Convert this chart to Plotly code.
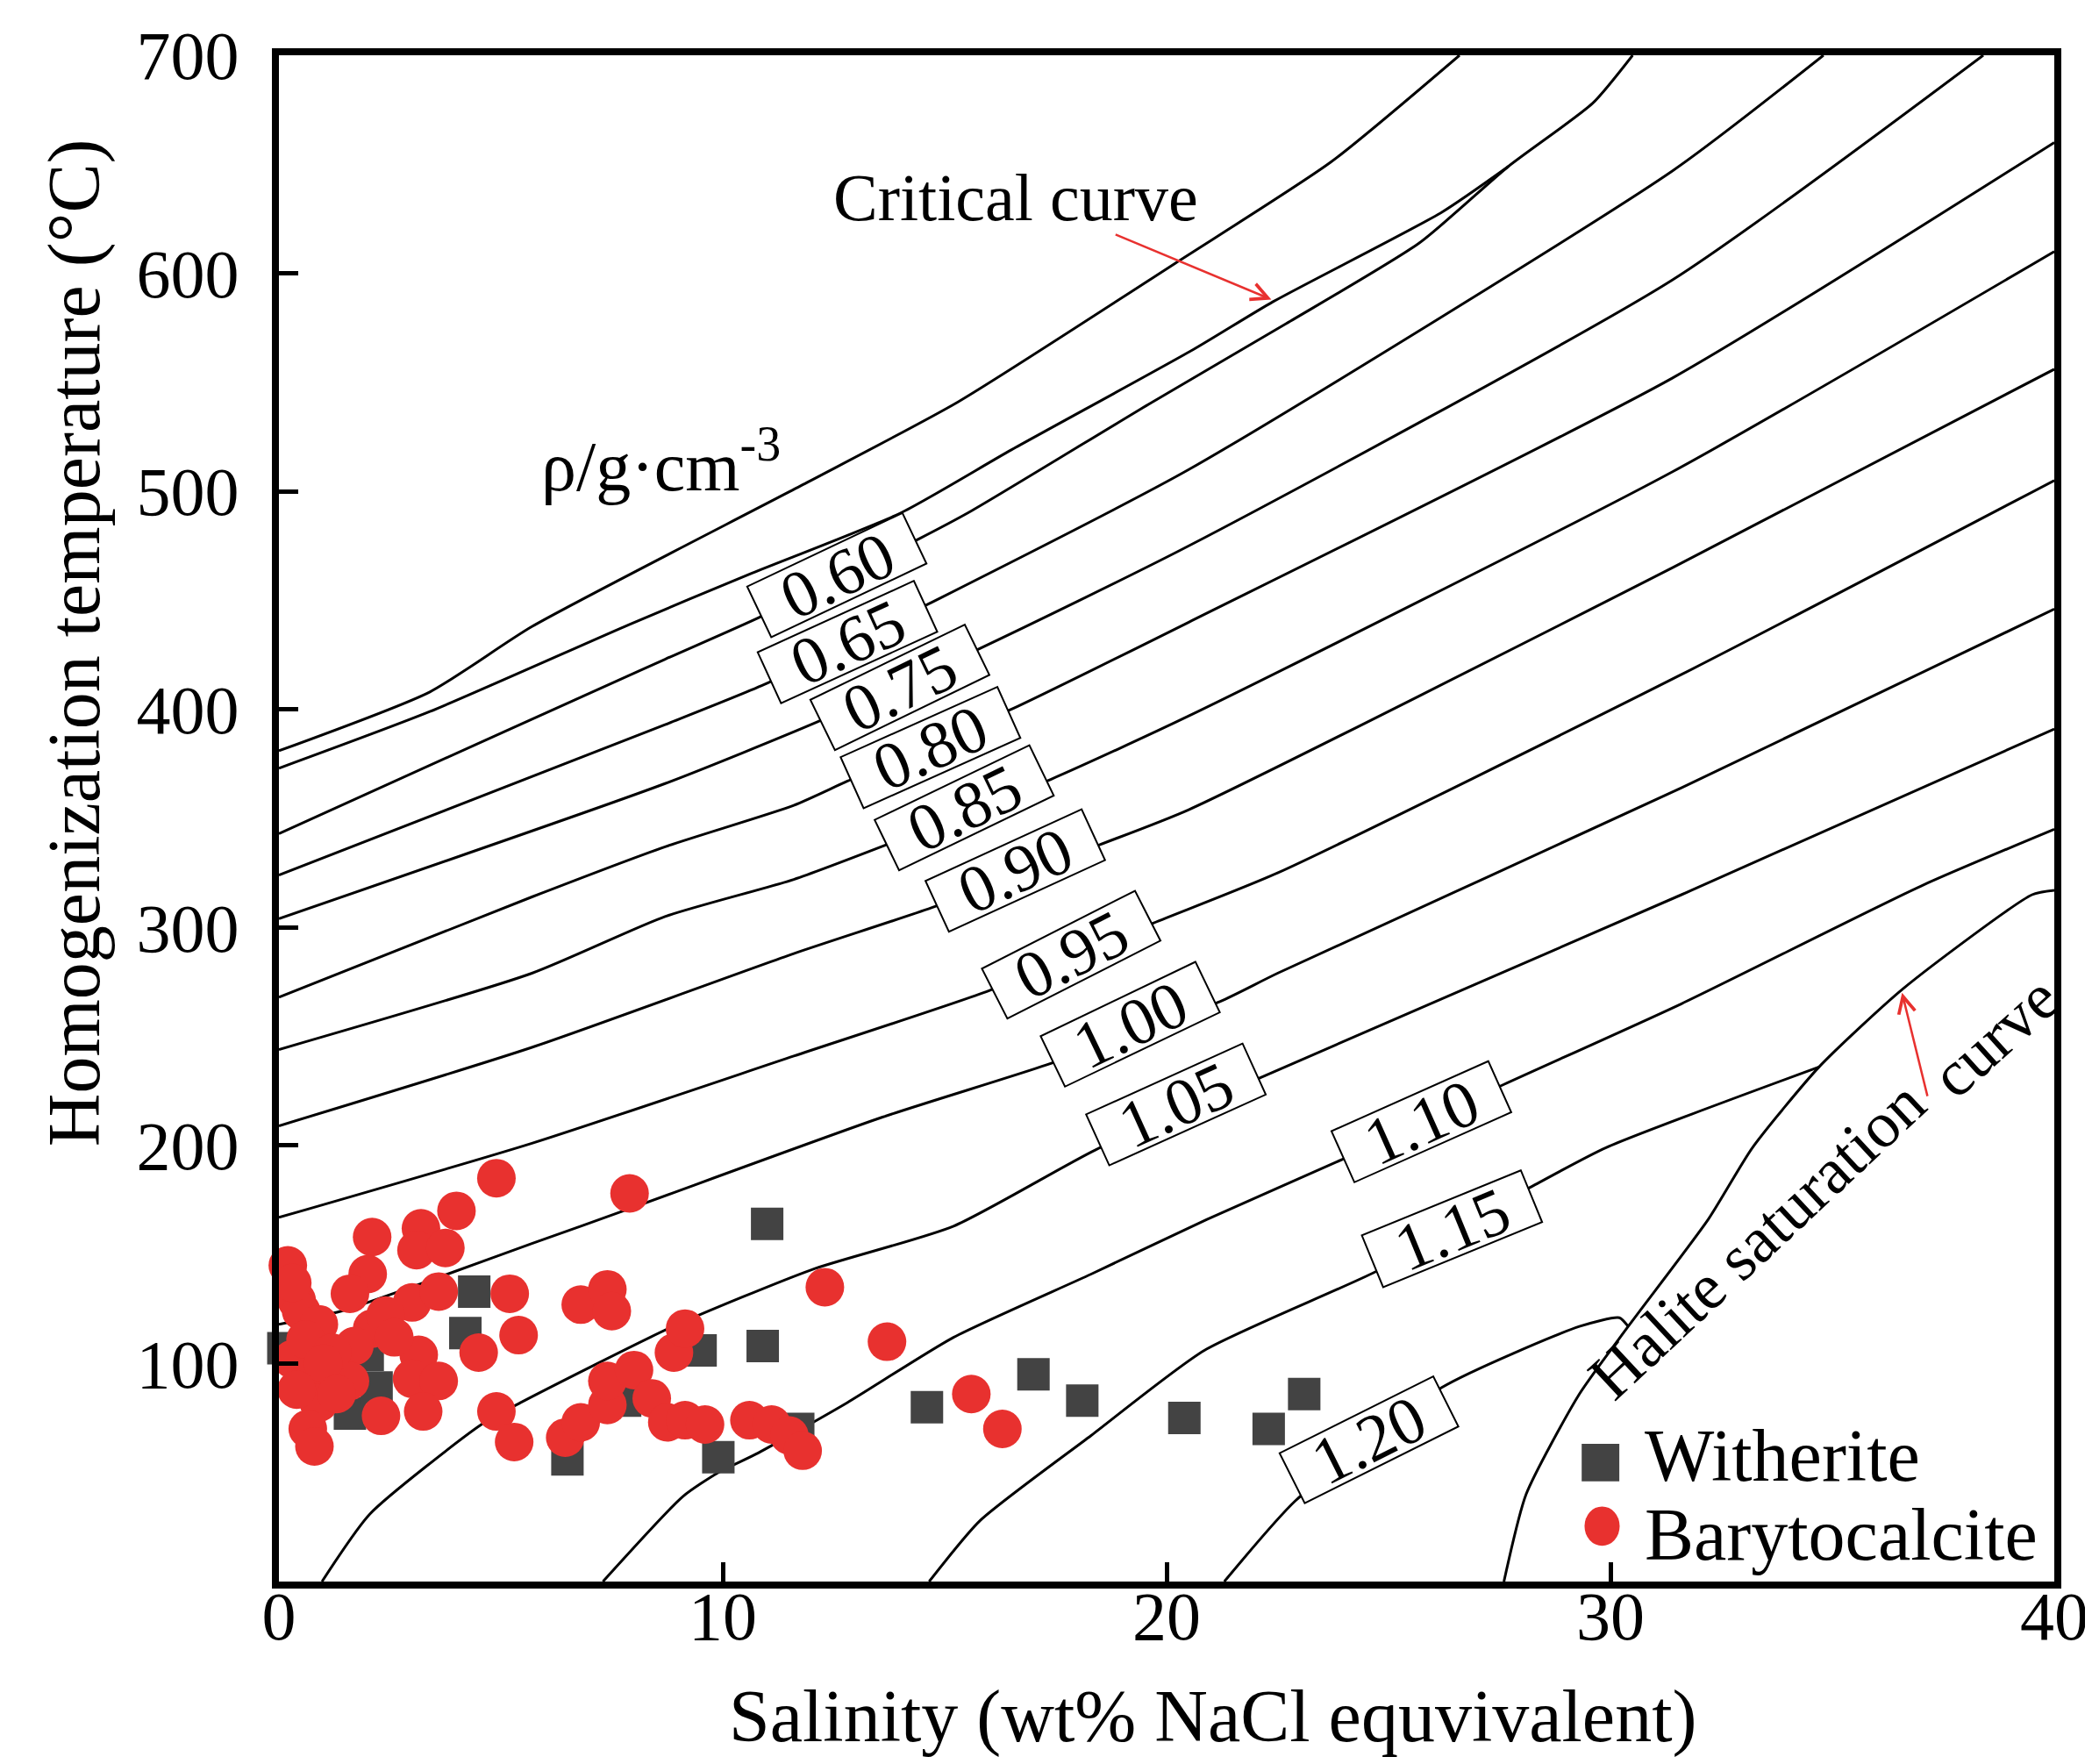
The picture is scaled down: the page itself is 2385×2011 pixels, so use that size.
import math
import plotly.graph_objects as go

FONT = "Liberation Serif"

# isochores / curves: salinity (wt% NaCl eq.) vs Th (deg C)
upper_s = [0, 3.4, 5.7, 11.8, 15.3, 20.3, 23.7, 26.6]
upper_t = [381, 408, 438, 503, 541, 606, 651, 700]

crit_s = [0, 3.4, 7.9, 10.6, 14.0, 16.5, 20.6, 22.4, 26.2, 27.7]
crit_t = [373, 399, 439, 462, 490, 519, 565, 587, 628, 649]

r060_s = [0, 5.1, 8.7, 10.8, 14.4, 15.6, 19.6, 22.7, 25.7, 27.7, 29.6, 30.5]
r060_t = [343, 390, 423, 442, 478, 491, 540, 577, 614, 649, 678, 700]

r065_s = [0, 8.7, 11.0, 14.6, 20.5, 31.4, 34.8]
r065_t = [324, 393, 412, 448, 510, 647, 700]

r075_s = [0, 8.7, 12.1, 15.8, 20.5, 31.4, 38.4]
r075_t = [304, 366, 394, 428, 475, 597, 700]

r080_s = [0, 5.7, 8.7, 11.6, 12.8, 16.5, 20.5, 31.4, 40]
r080_t = [268, 314, 337, 356, 367, 400, 440, 552, 660]

r085_s = [0, 5.7, 8.7, 11.6, 13.7, 17.4, 20.5, 31.4, 40]
r085_t = [244, 279, 305, 322, 338, 368, 397, 509, 610]

r090_s = [0, 5.7, 11.6, 14.7, 18.5, 20.5, 31.4, 40]
r090_t = [209, 245, 288, 309, 338, 354, 465, 556]

r095_s = [0, 5.7, 11.6, 16.0, 19.7, 22.5, 31.6, 40]
r095_t = [167, 201, 241, 271, 302, 325, 416, 505]

r100_s = [0, 1.4, 3.8, 5.7, 7.9, 13.6, 17.3, 21.2, 22.5, 31.6, 40]
r100_t = [118, 124, 141, 155, 171, 213, 237, 266, 279, 364, 446]

r105_s = [0.97, 2.05, 4.56, 5.44, 8.88, 12.0, 15.2, 18.4, 22.1, 31.6, 40]
r105_t = [0, 31, 72, 82, 117, 143, 163, 198, 231, 315, 391]

r110_s = [7.3, 9.1, 9.9, 10.8, 12.8, 15.2, 18.3, 20.9, 24.0, 27.6, 31.6, 37.0, 40]
r110_t = [0, 39, 50, 59, 82, 112, 141, 166, 194, 228, 265, 319, 345]

r115_s = [14.65, 15.8, 18.3, 20.85, 24.7, 28.3, 29.9, 34.7]
r115_t = [0, 28, 67, 106, 142, 182, 199, 236]

r120_s = [21.3, 22.9, 26.2, 29.3, 30.2, 30.4]
r120_t = [0, 37, 89, 117, 121, 117]

halite_s = [27.6, 28.1, 29.3, 30.4, 32.2, 33.2, 34.7, 36.6, 39.5, 40]
halite_t = [0, 40, 86, 117, 166, 199, 236, 272, 315, 317]

# density labels sitting on the isochores
label_text = ["0.60", "0.65", "0.75", "0.80", "0.85", "0.90",
              "0.95", "1.00", "1.05", "1.10", "1.15", "1.20"]
label_s = [12.57, 12.81, 13.99, 14.68, 15.44, 16.59, 17.85, 19.18, 20.21, 25.74, 26.43, 24.56]
label_t = [461.6, 430.9, 410.1, 382.5, 354.9, 326.1, 287.5, 255.6, 218.8, 210.9, 161.8, 65.0]
label_angle = [25.4, 24.6, 26, 24.2, 25.8, 24.7, 27, 25.7, 24.4, 24.1, 22.3, 26.6]

# fluid inclusion data
witherite_s = [0.1, 1.6, 2.2, 2.0, 4.4, 4.2, 6.5, 7.8, 9.5, 9.9, 11.0, 10.9, 11.7,
               14.6, 17.0, 18.1, 20.4, 22.3, 23.1]
witherite_t = [107, 77, 89, 104, 133, 114, 56, 83, 106, 57, 164, 108, 70,
               80, 95, 83, 75, 70, 86]

baryto_s = [4.9, 7.9, 4.0, 3.2, 2.1, 3.1, 3.75, 2.0, 0.2, 1.6, 3.0, 3.6, 0.4, 0.5,
            0.9, 2.1, 1.7, 0.3, 0.6, 1.3, 1.6, 0.9, 0.65, 0.8, 2.3, 3.15, 3.0, 3.6,
            3.25, 5.2, 5.4, 4.5, 4.9, 5.3, 6.8, 7.4, 7.5, 8.9, 9.15, 6.45, 6.8, 7.4,
            7.4, 8.0, 8.4, 8.75, 9.15, 0.3, 0.6, 1.2, 1.0, 2.4, 2.6, 1.3, 0.4,
            9.6, 10.6, 11.1, 11.5, 11.8, 12.3, 13.7, 15.6, 16.3]
baryto_t = [185, 178, 170, 162, 158, 152, 153, 141, 145, 132, 128, 133, 129, 124,
            118, 116, 108, 102, 94, 94, 92, 82, 70, 62, 76, 104, 93, 92,
            78, 132, 113, 105, 78, 64, 127, 134, 124, 105, 116, 66, 73, 81,
            92, 97, 84, 73, 74, 137, 111, 105, 100, 122, 112, 86, 88,
            72, 74, 72, 67, 60, 135, 110, 86, 70]

W, H = 2385, 2011
ML, MR, MT, MB = 310, 50, 50, 216
PX_S = (W - ML - MR) / 40.0
PX_T = (H - MT - MB) / 700.0
BOX_L, BOX_H = 196, 64
RED = "#e8312f"
GREY = "#434343"

fig = go.Figure()

curves = [(upper_s, upper_t), (crit_s, crit_t), (r060_s, r060_t), (r065_s, r065_t),
          (r075_s, r075_t), (r080_s, r080_t), (r085_s, r085_t), (r090_s, r090_t),
          (r095_s, r095_t), (r100_s, r100_t), (r105_s, r105_t), (r110_s, r110_t),
          (r115_s, r115_t), (r120_s, r120_t), (halite_s, halite_t)]
for xs, ys in curves:
    fig.add_trace(go.Scatter(x=xs, y=ys, mode="lines",
                             line=dict(color="black", width=3, shape="spline", smoothing=0.6),
                             hoverinfo="skip", showlegend=False))

fig.add_trace(go.Scatter(x=witherite_s, y=witherite_t, mode="markers", name="Witherite",
                         marker=dict(symbol="square", size=37, color=GREY),
                         cliponaxis=False, showlegend=False))
fig.add_trace(go.Scatter(x=baryto_s, y=baryto_t, mode="markers", name="Barytocalcite",
                         marker=dict(symbol="circle", size=44, color=RED),
                         cliponaxis=False, showlegend=False))


def box_path(s0, t0, ang):
    a = math.radians(ang)
    ux, uy = math.cos(a) * BOX_L / 2, math.sin(a) * BOX_L / 2
    vx, vy = -math.sin(a) * BOX_H / 2, math.cos(a) * BOX_H / 2
    pts = [(ux + vx, uy + vy), (-ux + vx, -uy + vy), (-ux - vx, -uy - vy), (ux - vx, uy - vy)]
    return "M " + " L ".join(f"{s0 + dx / PX_S:.4f},{t0 + dy / PX_T:.4f}" for dx, dy in pts) + " Z"


shapes = []
annotations = []
for txt, s0, t0, ang in zip(label_text, label_s, label_t, label_angle):
    shapes.append(dict(type="path", path=box_path(s0, t0, ang), xref="x", yref="y",
                       fillcolor="white", line=dict(color="black", width=2), layer="above"))
    annotations.append(dict(x=s0, y=t0, xref="x", yref="y", text=txt, showarrow=False,
                            xanchor="center", yanchor="middle", textangle=-ang,
                            font=dict(family=FONT, size=76, color="black")))

# legend drawn by hand so the symbols keep their size
shapes.append(dict(type="rect", xref="paper", yref="paper", x0=0.7444 - 0.0106, x1=0.7444 + 0.0106,
                   y0=0.078 - 0.0123, y1=0.078 + 0.0123, fillcolor=GREY, line=dict(width=0)))
shapes.append(dict(type="circle", xref="paper", yref="paper", x0=0.7453 - 0.0099, x1=0.7453 + 0.0099,
                   y0=0.0363 - 0.0129, y1=0.0363 + 0.0129, fillcolor=RED, line=dict(width=0)))
annotations.append(dict(x=0.7684, y=0.0824, xref="paper", yref="paper", text="Witherite",
                        showarrow=False, xanchor="left", yanchor="middle",
                        font=dict(family=FONT, size=84, color="black")))
annotations.append(dict(x=0.7684, y=0.0307, xref="paper", yref="paper", text="Barytocalcite",
                        showarrow=False, xanchor="left", yanchor="middle",
                        font=dict(family=FONT, size=84, color="black")))

annotations += [
    dict(x=16.6, y=635, xref="x", yref="y", text="Critical curve", showarrow=False,
         xanchor="center", yanchor="middle", font=dict(family=FONT, size=76, color="black")),
    dict(x=22.36, y=588, ax=18.82, ay=618, xref="x", yref="y", axref="x", ayref="y",
         text="", showarrow=True, arrowhead=5, arrowsize=1.5, arrowwidth=2.5, arrowcolor=RED),
    dict(x=5.86, y=514, xref="x", yref="y", text="ρ/g·cm<sup>-3</sup>", showarrow=False,
         xanchor="left", yanchor="middle", font=dict(family=FONT, size=80, color="black")),
    dict(x=33.3, y=157, xref="x", yref="y", text="Halite saturation", showarrow=False,
         xanchor="center", yanchor="middle", textangle=-43,
         font=dict(family=FONT, size=74, color="black")),
    dict(x=38.65, y=250, xref="x", yref="y", text="curve", showarrow=False,
         xanchor="center", yanchor="middle", textangle=-42,
         font=dict(family=FONT, size=74, color="black")),
    dict(x=36.57, y=270, ax=37.15, ay=222, xref="x", yref="y", axref="x", ayref="y",
         text="", showarrow=True, arrowhead=5, arrowsize=1.5, arrowwidth=2.5, arrowcolor=RED),
    dict(x=0.526, y=-0.0885, xref="paper", yref="paper", text="Salinity (wt% NaCl equvivalent)",
         showarrow=False, xanchor="center", yanchor="middle",
         font=dict(family=FONT, size=84, color="black")),
    dict(x=-0.115, y=0.615, xref="paper", yref="paper", text="Homogenization temperature (°C)",
         showarrow=False, xanchor="center", yanchor="middle", textangle=-90,
         font=dict(family=FONT, size=84, color="black")),
]

axis_common = dict(showgrid=False, zeroline=False, showline=True, linecolor="black", linewidth=8,
                   mirror=True, ticks="inside", ticklen=22, tickwidth=5, tickcolor="black",
                   tickfont=dict(family=FONT, size=78, color="black"))

fig.update_layout(
    width=W, height=H,
    margin=dict(l=ML, r=MR, t=MT, b=MB),
    paper_bgcolor="white", plot_bgcolor="white",
    xaxis=dict(range=[0, 40], tickvals=[0, 10, 20, 30, 40], ticklabelstandoff=-36, **axis_common),
    yaxis=dict(range=[0, 700], tickvals=[100, 200, 300, 400, 500, 600, 700],
               ticklabelstandoff=22, **axis_common),
    shapes=shapes, annotations=annotations, showlegend=False,
)

fig.write_html("out.html")
